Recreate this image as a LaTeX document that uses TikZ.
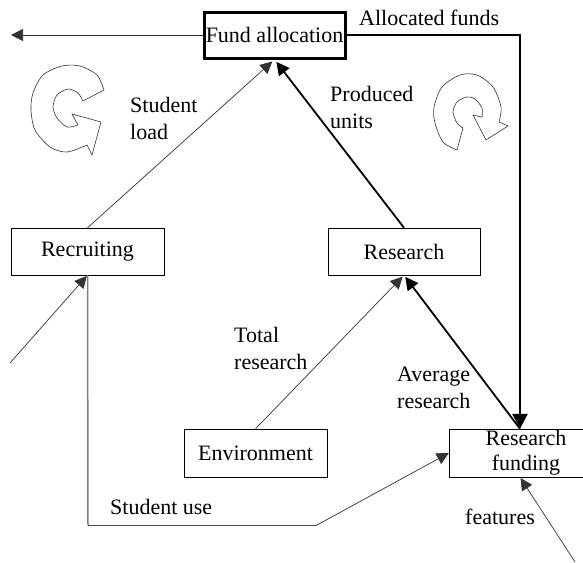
\documentclass[tikz,border=0pt]{standalone}
\usepackage{fontspec}
\setmainfont{Liberation Serif}
\usetikzlibrary{arrows.meta, positioning}
\tikzset{
	box/.style = {draw, rectangle, inner sep = 0pt, font = \fontsize{22}{25}\selectfont, align = center},
	lab/.style = {inner sep = 0pt, anchor = west, font = \fontsize{22}{27}\selectfont, align = left},
	thinarrow/.style = {-{Triangle[length = 12pt, width = 12pt]}, line width = 0.7pt, draw = black!80},
	thickarrow/.style = {-{Triangle[length = 13pt, width = 13pt]}, line width = 1.8pt},
	turn/.style = {draw = black!80, line width = 0.6pt}
}

\begin{document}
\begin{tikzpicture}[x = 1pt, y = -1pt]
	\useasboundingbox (0, 0) rectangle (583, 562);

	\node[box, line width = 3pt, minimum width = 141pt, minimum height = 46pt] (fund) at (274.5, 35) {Fund allocation};
	\node[box, minimum width = 153pt, minimum height = 47pt] (recruiting) at (87.5, 251.5) {Recruiting};
	\node[box, minimum width = 152pt, minimum height = 47pt] (research) at (404, 251.5) {\raisebox{-4pt}{Research}};
	\node[box, minimum width = 143pt, minimum height = 48pt] (environment) at (255.5, 453) {Environment};
	\node[box, minimum width = 154pt, minimum height = 48pt] (funding) at (526, 453) {Research\\funding};

	\coordinate (out) at (11, 35);
	\coordinate (corner) at (520, 35);
	\coordinate (applicants) at (10, 363);
	\coordinate (usedown) at (88, 525);
	\coordinate (useright) at (317, 525);
	\coordinate (feat) at (575, 562);
	\coordinate (fundingtop) at (funding.north -| corner);
	\coordinate (fundingbottom) at (funding.south -| corner);

	\node[lab] (allocated) at (359, 18) {Allocated funds};
	\node[lab] (load) at (130, 118) {Student\\load};
	\node[lab] (units) at (330, 107) {Produced\\units};
	\node[lab] (total) at (234, 348) {Total\\research};
	\node[lab] (average) at (397, 388) {Average\\research};
	\node[lab] (use) at (110, 507) {Student use};
	\node[lab] (features) at (465, 517) {features};

	\draw[thinarrow] (fund.west) -- (out);
	\draw[thinarrow, shorten > = 3pt] (recruiting.north) -- (fund.south);
	\draw[thickarrow, shorten > = 3pt] (research.north) -- (fund.south);
	\draw[thinarrow, shorten > = 2pt] (environment.north) -- (research.south);
	\draw[thickarrow, shorten > = 2pt] (fundingtop) -- (research.south);
	\draw[-{Triangle[length = 15pt, width = 15pt]}, line width = 2.8pt] (fund.east) -- (corner) -- (fundingtop);
	\draw[thinarrow, shorten > = 1pt] (applicants) -- (recruiting.south);
	\draw[line width = 1.5pt, draw = black!50] (recruiting.south) -- (usedown);
	\draw[line width = 0.8pt, draw = black!70] (usedown) -- (useright);
	\draw[thinarrow] (useright) -- (funding.west);
	\draw[thinarrow, shorten > = 1pt] (feat) -- (fundingbottom);

	% the two turning signs
	\draw[turn] (104, 90) -- plot[smooth] coordinates {(104, 90) (97, 75) (80, 66) (62, 66) (43, 75) (33, 93) (31, 110) (35, 130) (50, 147) (67, 152) (87, 145)} -- (92, 155) -- (101, 122) -- (72, 114) -- (78, 125) -- plot[smooth] coordinates {(78, 125) (67, 127) (57, 118) (53, 107) (57, 95) (68, 89) (78, 93) (83, 101)} -- cycle;
	\draw[turn] (457, 150) -- plot[smooth] coordinates {(457, 150) (443, 142) (435, 123) (434, 107) (442, 87) (460, 75) (477, 75) (493, 87) (501, 107) (499, 122)} -- (508, 126) -- (486, 140) -- (473, 115) -- (482, 117) -- plot[smooth] coordinates {(482, 117) (482, 108) (475, 99) (467, 97) (457, 102) (453, 112) (457, 123) (463, 128)} -- cycle;
\end{tikzpicture}
\end{document}
